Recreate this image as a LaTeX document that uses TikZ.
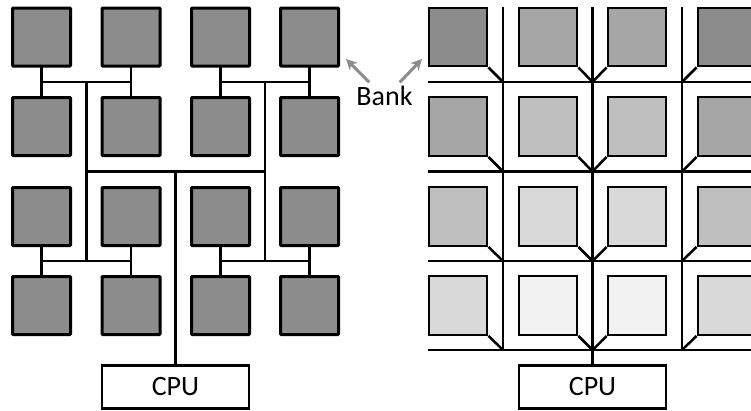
\documentclass[tikz,border=0pt]{standalone}
\usepackage{fontspec}
\setmainfont{Carlito}
\usetikzlibrary{calc,arrows.meta}
\definecolor{g1}{HTML}{8C8C8C}
\definecolor{g2}{HTML}{A6A6A6}
\definecolor{g3}{HTML}{BFBFBF}
\definecolor{g4}{HTML}{D9D9D9}
\definecolor{g5}{HTML}{F2F2F2}
\tikzset{
  lbank/.style={draw, line width=3pt, fill=g1, minimum width=58pt, minimum height=58pt, inner sep=0pt, rounded corners=0.8pt},
  rbank/.style={draw, line width=2.4pt, minimum width=58.5pt, minimum height=58.5pt, inner sep=0pt},
  cpubox/.style={draw, line width=2.4pt, fill=white, minimum width=147pt, minimum height=43pt, inner sep=0pt, font=\fontsize{28}{32}\selectfont},
  wire/.style={line width=2.5pt, line cap=rect},
  rwire/.style={line width=2.5pt},
  pointer/.style={draw=g1, line width=3pt, -{Stealth[length=11pt,width=11pt]}}
}
\begin{document}
\begin{tikzpicture}[x=1pt,y=-1pt]
\useasboundingbox (0,0) rectangle (751,410);
% ---------- left grid ----------
\foreach \r/\yy in {1/37,2/126.5,3/216.5,4/305.5}{
  \foreach \c/\xx in {1/41.5,2/131,3/220.5,4/309.5}{
    \node[lbank] (L\r\c) at (\xx,\yy) {};
  }
}
\node[cpubox] (cpuL) at (175.5,387) {CPU};
% pair connectors
\foreach \a/\b in {1/2,3/4}{
  \foreach \c in {1,2,3,4}{
    \draw[wire] (L\a\c.south) -- (L\b\c.north);
  }
  \coordinate (hL\a a) at ($(L\a 1.south)!0.5!(L\b 1.north)$);
  \coordinate (hL\a b) at ($(L\a 2.south)!0.5!(L\b 2.north)$);
  \coordinate (hL\a c) at ($(L\a 3.south)!0.5!(L\b 3.north)$);
  \coordinate (hL\a d) at ($(L\a 4.south)!0.5!(L\b 4.north)$);
  \draw[wire] (hL\a a) -- (hL\a b);
  \draw[wire] (hL\a c) -- (hL\a d);
}
\coordinate (t1top) at ($(hL1a)!0.5!(hL1b)$);
\coordinate (t1bot) at ($(hL3a)!0.5!(hL3b)$);
\coordinate (t2top) at ($(hL1c)!0.5!(hL1d)$);
\coordinate (t2bot) at ($(hL3c)!0.5!(hL3d)$);
\draw[wire] (t1top) -- (t1bot);
\draw[wire] (t2top) -- (t2bot);
\coordinate (m1) at ($(t1top)!0.5!(t1bot)$);
\coordinate (m2) at ($(t2top)!0.5!(t2bot)$);
\draw[wire] (m1) -- (m2);
\coordinate (mc) at ($(m1)!0.5!(m2)$);
\draw[wire, line cap=butt] (mc) -- (mc |- cpuL.north);
% ---------- right grid ----------
\foreach \r/\yy/\ca/\cb in {1/37/g1/g2,2/126.5/g2/g3,3/216.5/g3/g4,4/305.5/g4/g5}{
  \node[rbank, fill=\ca] (R\r1) at (458,\yy) {};
  \node[rbank, fill=\cb] (R\r2) at (548,\yy) {};
  \node[rbank, fill=\cb] (R\r3) at (637,\yy) {};
  \node[rbank, fill=\ca] (R\r4) at (727,\yy) {};
}
\node[cpubox] (cpuR) at (592.5,387) {CPU};
% lines
\coordinate (vA) at (503,7);
\coordinate (vB) at (592.5,7);
\coordinate (vC) at (682,7);
\foreach \r/\yy in {1/82,2/171.5,3/261,4/350}{
  \coordinate (hs\r) at (428,\yy);
  \coordinate (he\r) at (751,\yy);
  \draw[rwire] (hs\r) -- (he\r);
  \draw[rwire] (R\r1.south east) -- (vA |- hs\r);
  \draw[rwire] (R\r2.south east) -- (vB |- hs\r);
  \draw[rwire] (R\r3.south west) -- (vB |- hs\r);
  \draw[rwire] (R\r4.south west) -- (vC |- hs\r);
}
\draw[rwire] (vA) -- (vA |- hs4);
\draw[rwire] (vC) -- (vC |- hs4);
\draw[rwire] (vB) -- (vB |- cpuR.north);
% ---------- label ----------
\node[font=\fontsize{28}{32}\selectfont, anchor=base, inner sep=0pt] (bank) at (384.5,105) {Bank};
\coordinate (tipL) at (346,59);
\coordinate (tipR) at (422,59);
\draw[pointer] (bank.north west) ++(13,-3) coordinate (tailL) (tailL) -- (tipL);
\draw[pointer] (bank.north east) ++(-13,-3) coordinate (tailR) (tailR) -- (tipR);
\end{tikzpicture}
\end{document}
